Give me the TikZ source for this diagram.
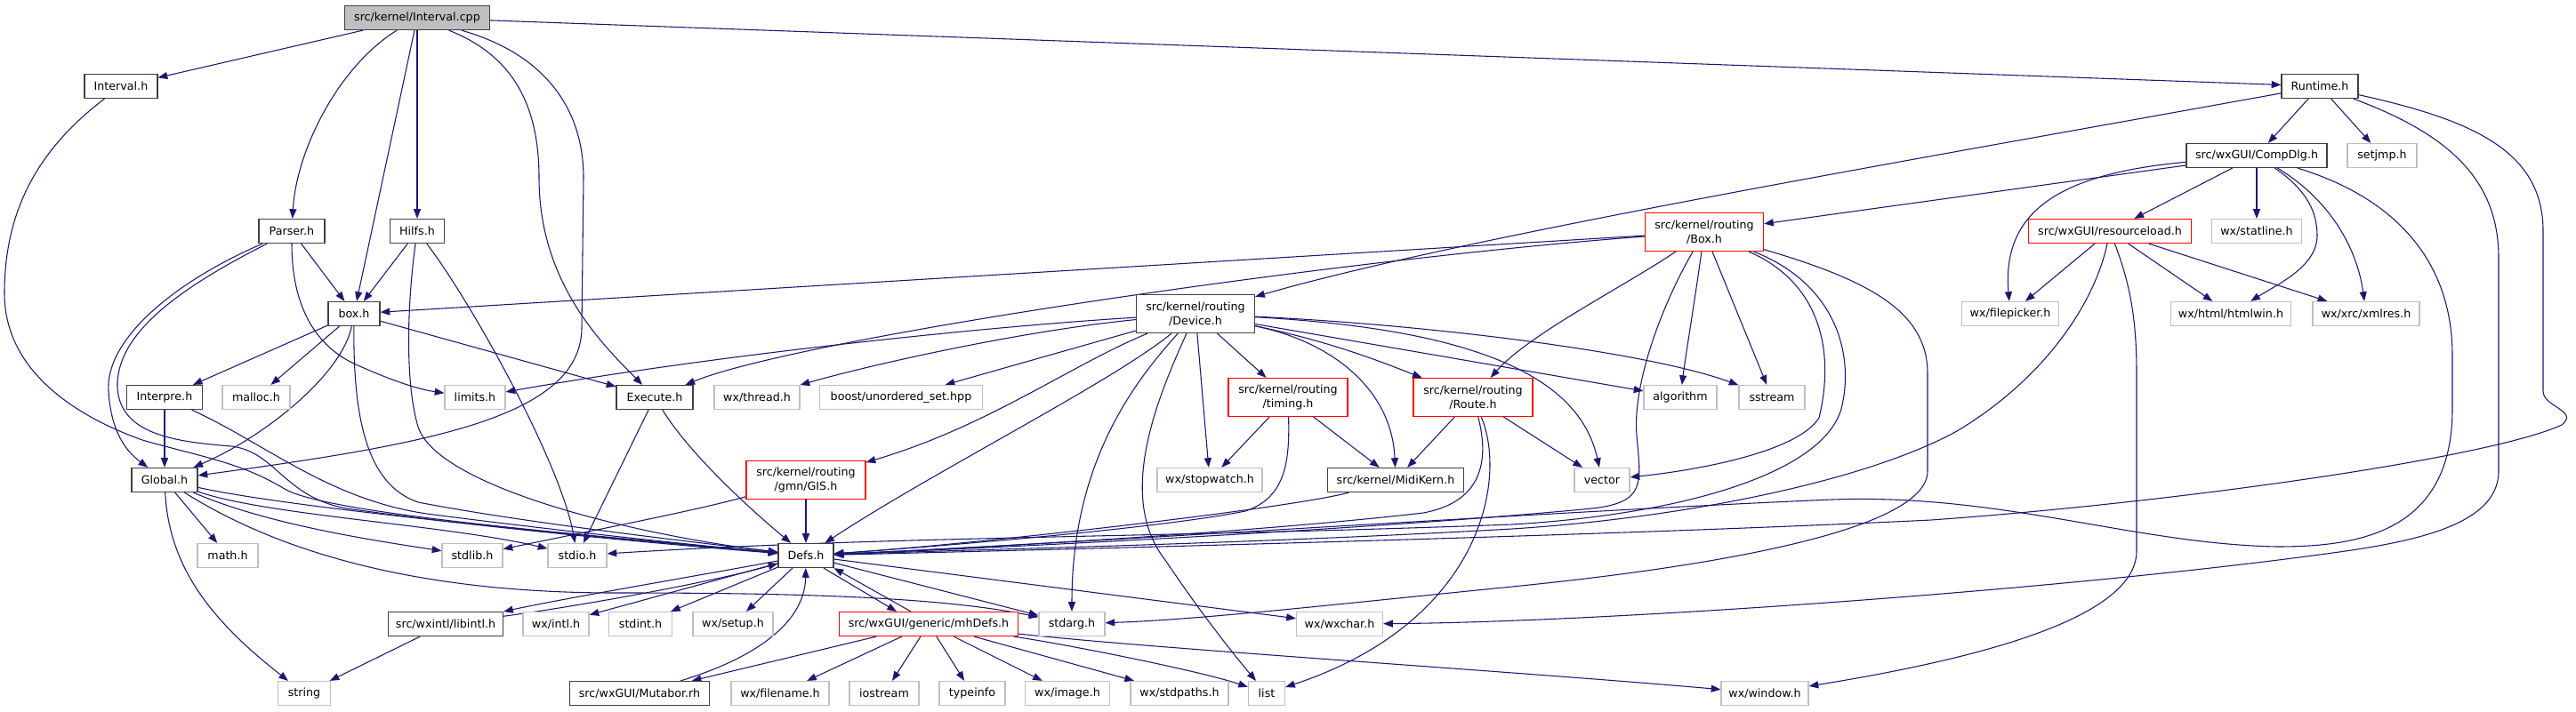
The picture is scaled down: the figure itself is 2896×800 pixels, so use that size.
\documentclass[tikz,border=0pt]{standalone}
\usepackage{fontspec}
\newfontfamily\nf{DejaVu Sans}
\usetikzlibrary{arrows.meta,calc}
\definecolor{mblue}{HTML}{191970}
\definecolor{g75}{HTML}{BFBFBF}
\definecolor{bord}{HTML}{404040}
\pgfdeclarelayer{back}
\pgfdeclarelayer{bg}
\pgfsetlayers{back,bg,main}
\begin{document}
\begin{tikzpicture}[x=0.75pt,y=-0.75pt,
 nbase/.style={rectangle,inner sep=0pt,minimum height=20.25pt,line width=0.9pt,fill=white,align=center,font=\nf\fontsize{9.5}{12}\selectfont},
 blk/.style={nbase,draw=bord},
 gry/.style={nbase,draw=g75},
 rd/.style={nbase,draw=red},
 two/.style={minimum height=32.25pt},
 wd/.style={minimum width=#1*0.75pt},
 edg/.style={draw=mblue,line width=0.8pt,-{Triangle[length=8pt,width=6pt]}}]
\begin{pgfonlayer}{back}
\fill[white] (0,0) rectangle (2896,800);
\end{pgfonlayer}
\useasboundingbox (0,0) rectangle (2896,800);

% nodes
\node[blk,fill=g75,wd=163] (root) at (469,20) {src/kernel/Interval.cpp};
\node[blk,wd=82] (Intervalh) at (136,97) {Interval.h};
\node[blk,wd=86] (Runtime) at (2608,97) {Runtime.h};
\node[blk,wd=158] (CompDlg) at (2537,175) {src/wxGUI/CompDlg.h};
\node[gry,wd=78] (setjmp) at (2678,175) {setjmp.h};
\node[blk,wd=74] (Parser) at (328,260) {Parser.h};
\node[blk,wd=61] (Hilfs) at (469,260) {Hilfs.h};
\node[rd,two,wd=133] (Box) at (1916,261) {src/kernel/routing\\/Box.h};
\node[rd,wd=183] (resload) at (2372,260) {src/wxGUI/resourceload.h};
\node[gry,wd=101] (statline) at (2537,260) {wx/statline.h};
\node[blk,wd=58] (boxh) at (398,353) {box.h};
\node[blk,two,wd=133] (Device) at (1344,353) {src/kernel/routing\\/Device.h};
\node[gry,wd=109] (filepicker) at (2260,353) {wx/filepicker.h};
\node[gry,wd=135] (htmlwin) at (2508,353) {wx/html/htmlwin.h};
\node[gry,wd=120] (xmlres) at (2660,353) {wx/xrc/xmlres.h};
\node[blk,wd=85] (Interpre) at (185,447) {Interpre.h};
\node[gry,wd=76] (malloc) at (288,447) {malloc.h};
\node[gry,wd=68] (limits) at (534,447) {limits.h};
\node[blk,wd=86] (Execute) at (736,447) {Execute.h};
\node[gry,wd=96] (thread) at (851,447) {wx/thread.h};
\node[gry,wd=183] (boost) at (1013,447) {boost/unordered\_set.hpp};
\node[rd,two,wd=134] (timing) at (1448,447) {src/kernel/routing\\/timing.h};
\node[rd,two,wd=134] (Route) at (1656,447) {src/kernel/routing\\/Route.h};
\node[gry,wd=82] (algorithm) at (1889,447) {algorithm};
\node[gry,wd=74] (sstream) at (1992,447) {sstream};
\node[blk,wd=74] (Global) at (185,540) {Global.h};
\node[rd,two,wd=134] (GIS) at (906,540) {src/kernel/routing\\/gmn/GIS.h};
\node[gry,wd=118] (stopwatch) at (1360,540) {wx/stopwatch.h};
\node[blk,wd=153] (MidiKern) at (1569,540) {src/kernel/MidiKern.h};
\node[gry,wd=62] (vector) at (1801,540) {vector};
\node[gry,wd=68] (math) at (256,625) {math.h};
\node[gry,wd=68] (stdlib) at (531,625) {stdlib.h};
\node[gry,wd=66] (stdio) at (649,625) {stdio.h};
\node[blk,wd=62] (Defs) at (906,625) {Defs.h};
\node[blk,wd=129] (libintl) at (501,702) {src/wxintl/libintl.h};
\node[gry,wd=74] (intl) at (625,702) {wx/intl.h};
\node[gry,wd=71] (stdint) at (720,702) {stdint.h};
\node[gry,wd=90] (setup) at (824,702) {wx/setup.h};
\node[rd,wd=201] (mhDefs) at (1044,702) {src/wxGUI/generic/mhDefs.h};
\node[gry,wd=74] (stdarg) at (1205,702) {stdarg.h};
\node[gry,wd=97] (wxchar) at (1506,702) {wx/wxchar.h};
\node[gry,wd=59] (string) at (342,780) {string};
\node[blk,wd=157] (Mutabor) at (719,780) {src/wxGUI/Mutabor.rh};
\node[gry,wd=110] (filename) at (877,780) {wx/filename.h};
\node[gry,wd=78] (iostream) at (994,780) {iostream};
\node[gry,wd=74] (typeinfo) at (1093,780) {typeinfo};
\node[gry,wd=95] (image) at (1200,780) {wx/image.h};
\node[gry,wd=110] (stdpaths) at (1326,780) {wx/stdpaths.h};
\node[gry,wd=41] (list) at (1424,780) {list};
\node[gry,wd=98] (window) at (1984,780) {wx/window.h};

\begin{pgfonlayer}{bg}
% Interval.cpp
\draw[edg] (root) -- (Intervalh);
\draw[edg] (root) .. controls (380,75) and (333,170) .. (Parser);
\draw[edg] (root) -- (boxh);
\draw[edg] (root) -- (Hilfs);
\draw[edg] (root) .. controls (570,60) and (606,110) .. (606,200) .. controls (606,320) and (680,390) .. (Execute);
\draw[edg] (root) .. controls (610,60) and (656,120) .. (656,200) -- (654,370) .. controls (652,470) and (480,500) .. (Global);
\draw[edg] (root) -- (Runtime);
% Interval.h
\draw[edg] (Intervalh) .. controls (40,170) and (5,240) .. (5,330) .. controls (5,420) and (90,470) .. (160,495) .. controls (230,515) and (270,520) .. (320,550) .. controls (370,580) and (700,605) .. (Defs);
% Parser.h
\draw[edg] (Parser) -- (boxh);
\draw[edg] (Parser) .. controls (328,330) and (345,385) .. (400,410) .. controls (440,428) and (470,438) .. (limits);
\draw[edg] (Parser) .. controls (200,315) and (118,380) .. (122,440) .. controls (125,490) and (145,510) .. (Global);
\draw[edg] (Parser) .. controls (210,320) and (135,370) .. (132,430) .. controls (130,490) and (200,497) .. (260,502) .. controls (310,508) and (320,560) .. (390,572) .. controls (550,595) and (780,615) .. (Defs);
% Hilfs.h
\draw[edg] (Hilfs) -- (boxh);
\draw[edg] (Hilfs) .. controls (458,340) and (455,430) .. (470,480) .. controls (490,545) and (700,600) .. (Defs);
\draw[edg] (Hilfs) .. controls (530,340) and (630,520) .. (stdio);
% box.h
\draw[edg] (boxh) -- (Interpre);
\draw[edg] (boxh) -- (malloc);
\draw[edg] (boxh) .. controls (385,420) and (300,490) .. (Global);
\draw[edg] (boxh) .. controls (397,470) and (412,545) .. (470,565) .. controls (600,590) and (800,612) .. (Defs);
\draw[edg] (boxh) -- (Execute);
% Interpre.h
\draw[edg] (Interpre) -- (Global);
\draw[edg] (Interpre) .. controls (300,500) and (370,562) .. (480,578) .. controls (650,600) and (800,615) .. (Defs);
% Global.h
\draw[edg] (Global) -- (math);
\draw[edg] (Global) .. controls (190,640) and (240,700) .. (string);
\draw[edg] (Global) .. controls (300,590) and (420,608) .. (stdlib);
\draw[edg] (Global) .. controls (300,580) and (500,590) .. (stdio);
\draw[edg] (Global) .. controls (320,570) and (600,598) .. (Defs);
\draw[edg] (Global) .. controls (320,625) and (480,668) .. (700,667) .. controls (900,667) and (1060,672) .. (stdarg);
% Execute.h
\draw[edg] (Execute) -- (stdio);
\draw[edg] (Execute) .. controls (775,510) and (840,570) .. (Defs);
% libintl / Defs
\draw[edg] (libintl) -- (string);
\draw[edg] (Defs) .. controls (800,645) and (640,672) .. (libintl);
\draw[edg] (libintl) .. controls (650,682) and (800,655) .. (Defs);
\draw[edg] (Defs) -- (intl);
\draw[edg] (Defs) -- (stdint);
\draw[edg] (Defs) -- (setup);
\draw[edg] ($(Defs.south)+(20,0)$) -- ($(mhDefs.north)+(-36,0)$);
\draw[edg] ($(mhDefs.north)+(-20,0)$) -- (Defs.south east);
\draw[edg] (Defs) -- (stdarg);
\draw[edg] (Defs) -- (wxchar);
\draw[edg] (Mutabor) .. controls (850,740) and (905,700) .. (Defs);
% mhDefs.h
\draw[edg] (mhDefs) -- (Mutabor);
\draw[edg] (mhDefs) -- (filename);
\draw[edg] (mhDefs) -- (iostream);
\draw[edg] (mhDefs) -- (typeinfo);
\draw[edg] (mhDefs) -- (image);
\draw[edg] (mhDefs) -- (stdpaths);
\draw[edg] (mhDefs) .. controls (1200,725) and (1350,755) .. (list);
\draw[edg] (mhDefs) .. controls (1300,730) and (1700,755) .. (window);
% Runtime.h
\draw[edg] (Runtime) -- (CompDlg);
\draw[edg] (Runtime) -- (setjmp);
\draw[edg] (Runtime) .. controls (2150,180) and (1650,265) .. (Device);
\draw[edg] (Runtime) .. controls (2750,150) and (2809,200) .. (2809,290) -- (2809,530) .. controls (2809,595) and (2700,612) .. (2600,625) .. controls (2300,665) and (1800,700) .. (wxchar);
\draw[edg] (Runtime) .. controls (2780,135) and (2859,170) .. (2859,260) -- (2859,440) .. controls (2859,458) and (2900,462) .. (2880,478) .. controls (2800,515) and (2450,565) .. (2171,585) .. controls (1800,603) and (1200,618) .. (Defs);
% CompDlg.h
\draw[edg] (CompDlg) -- (resload);
\draw[edg] (CompDlg) -- (statline);
\draw[edg] (CompDlg) .. controls (2320,195) and (2250,235) .. (filepicker);
\draw[edg] (CompDlg) .. controls (2595,215) and (2605,240) .. (2605,265) .. controls (2605,300) and (2560,320) .. (htmlwin);
\draw[edg] (CompDlg) .. controls (2620,225) and (2650,280) .. (xmlres);
\draw[edg] (CompDlg) .. controls (2700,225) and (2757,300) .. (2757,400) -- (2757,460) .. controls (2757,600) and (2650,615) .. (2560,615) .. controls (2400,612) and (2250,555) .. (2060,562) .. controls (1750,575) and (1200,612) .. (Defs);
\draw[edg] (CompDlg) -- (Box);
% resourceload.h
\draw[edg] (resload) -- (filepicker);
\draw[edg] (resload) -- (htmlwin);
\draw[edg] (resload) -- (xmlres);
\draw[edg] (resload) .. controls (2355,340) and (2300,425) .. (2200,485) .. controls (2100,540) and (1900,582) .. (1700,595) .. controls (1400,612) and (1100,618) .. (Defs);
\draw[edg] (resload) .. controls (2395,320) and (2402,360) .. (2402,420) -- (2402,620) .. controls (2402,700) and (2200,745) .. (window);
% Box.h
\draw[edg] (Box) -- (boxh);
\draw[edg] (Box) .. controls (1500,292) and (900,380) .. (Execute);
\draw[edg] (Box) .. controls (1830,320) and (1720,375) .. (Route);
\draw[edg] (Box) .. controls (1870,340) and (1835,430) .. (1840,490) .. controls (1845,545) and (1850,565) .. (1790,572) .. controls (1550,595) and (1150,615) .. (Defs);
\draw[edg] (Box) .. controls (1905,340) and (1895,400) .. (algorithm);
\draw[edg] (Box) -- (sstream);
\draw[edg] (Box) .. controls (2050,320) and (2062,400) .. (2045,470) .. controls (2020,510) and (1900,530) .. (vector);
\draw[edg] (Box) .. controls (2065,320) and (2085,400) .. (2070,460) .. controls (2050,530) and (1900,578) .. (1700,590) .. controls (1300,605) and (1000,603) .. (stdio);
\draw[edg] (Box) .. controls (2100,315) and (2167,350) .. (2167,420) -- (2167,530) .. controls (2167,600) and (1900,640) .. (1700,660) .. controls (1500,680) and (1350,697) .. (stdarg);
% Device.h
\draw[edg] (Device) .. controls (1100,368) and (800,400) .. (limits);
\draw[edg] (Device) .. controls (1150,372) and (980,410) .. (thread);
\draw[edg] (Device) -- (boost);
\draw[edg] (Device) .. controls (1205,410) and (1110,480) .. (GIS);
\draw[edg] (Device) .. controls (1250,430) and (1050,530) .. (Defs);
\draw[edg] (Device) .. controls (1275,430) and (1205,520) .. (stdarg);
\draw[edg] (Device) .. controls (1300,450) and (1255,560) .. (1310,630) .. controls (1350,690) and (1390,740) .. (list);
\draw[edg] (Device) -- (stopwatch);
\draw[edg] (Device) -- (timing);
\draw[edg] (Device) .. controls (1500,385) and (1560,410) .. (Route);
\draw[edg] (Device) .. controls (1500,385) and (1565,440) .. (MidiKern);
\draw[edg] (Device) -- (algorithm);
\draw[edg] (Device) .. controls (1600,365) and (1850,395) .. (sstream);
\draw[edg] (Device) .. controls (1650,370) and (1775,420) .. (vector);
% timing.h
\draw[edg] (timing) -- (stopwatch);
\draw[edg] (timing) -- (MidiKern);
\draw[edg] (timing) .. controls (1450,520) and (1445,560) .. (1400,575) .. controls (1300,595) and (1050,615) .. (Defs);
% Route.h
\draw[edg] (Route) -- (MidiKern);
\draw[edg] (Route) -- (vector);
\draw[edg] (Route) .. controls (1675,520) and (1665,565) .. (1600,577) .. controls (1400,600) and (1100,616) .. (Defs);
\draw[edg] (Route) .. controls (1695,540) and (1665,700) .. (list);
% MidiKern.h
\draw[edg] (MidiKern) .. controls (1450,572) and (1100,612) .. (Defs);
% GIS.h
\draw[edg] (GIS) -- (Defs);
\draw[edg] (GIS) .. controls (780,575) and (650,600) .. (stdlib);
\end{pgfonlayer}
\end{tikzpicture}
\end{document}
